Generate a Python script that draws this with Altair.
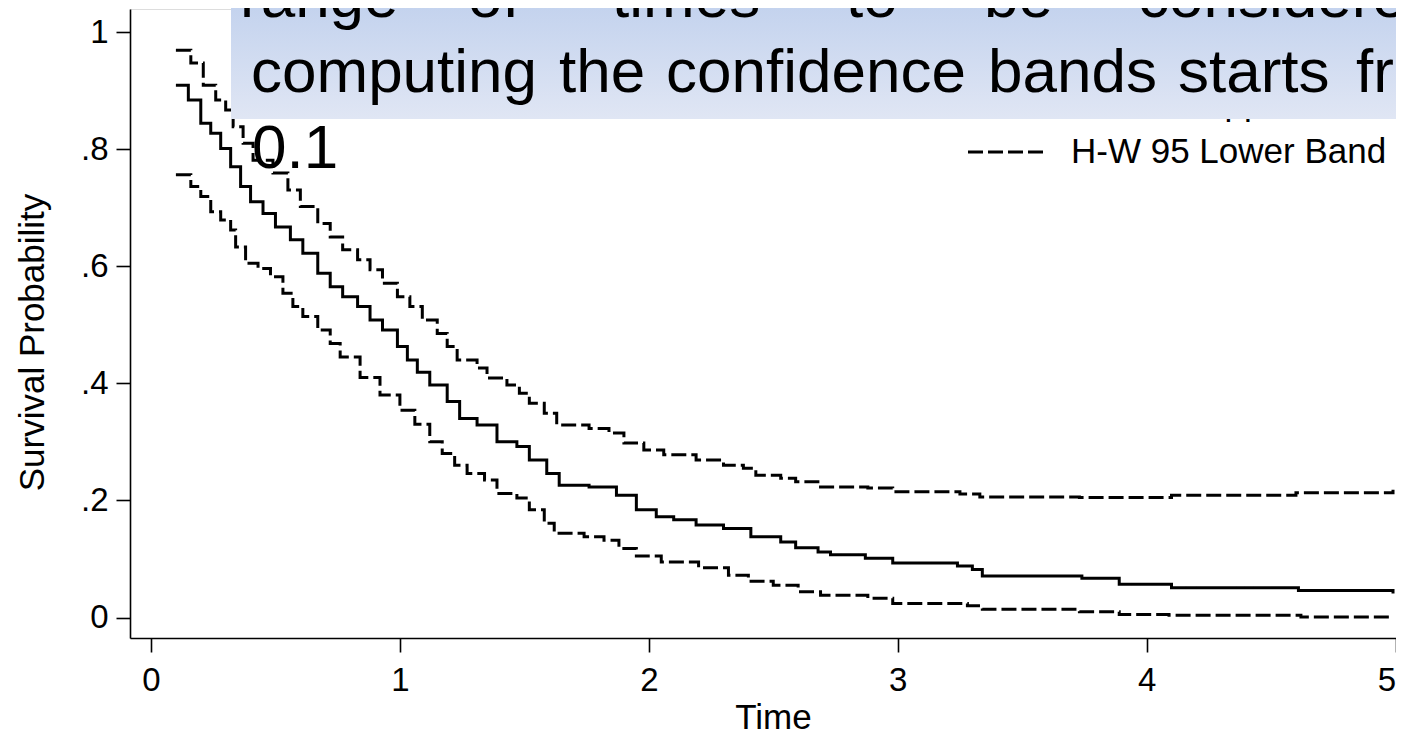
import altair as alt
import pandas as pd

# ---------------- data ----------------
km_time = [0.10, 0.15, 0.20, 0.24, 0.28, 0.32, 0.36, 0.40, 0.45, 0.50, 0.56, 0.61, 0.67,
           0.72, 0.77, 0.83, 0.88, 0.93, 0.99, 1.03, 1.07, 1.12, 1.19, 1.24, 1.31, 1.39,
           1.47, 1.52, 1.59, 1.64, 1.76, 1.87, 1.95, 2.03, 2.10, 2.19, 2.30, 2.41, 2.53,
           2.59, 2.68, 2.73, 2.87, 2.98, 3.24, 3.30, 3.34, 3.74, 3.89, 4.10, 4.61, 4.99]
km_surv = [0.909, 0.884, 0.844, 0.827, 0.801, 0.770, 0.736, 0.710, 0.690, 0.667, 0.645,
           0.622, 0.588, 0.565, 0.548, 0.531, 0.508, 0.491, 0.463, 0.440, 0.419, 0.397,
           0.369, 0.340, 0.329, 0.300, 0.292, 0.269, 0.246, 0.226, 0.223, 0.209, 0.184,
           0.172, 0.167, 0.158, 0.152, 0.138, 0.129, 0.119, 0.112, 0.107, 0.101, 0.093,
           0.088, 0.082, 0.071, 0.067, 0.057, 0.051, 0.046, 0.041]

upper_time = [0.10, 0.16, 0.21, 0.26, 0.30, 0.33, 0.37, 0.41, 0.49, 0.55, 0.60, 0.67, 0.72,
              0.77, 0.83, 0.88, 0.93, 0.99, 1.04, 1.09, 1.15, 1.19, 1.23, 1.31, 1.35, 1.43,
              1.48, 1.52, 1.58, 1.63, 1.76, 1.84, 1.90, 1.98, 2.06, 2.19, 2.30, 2.38, 2.43,
              2.53, 2.59, 2.69, 2.88, 2.98, 3.25, 3.33, 3.73, 4.10, 4.60, 4.99]
upper_surv = [0.969, 0.947, 0.909, 0.884, 0.867, 0.838, 0.810, 0.781, 0.759, 0.730, 0.702,
              0.673, 0.650, 0.628, 0.611, 0.594, 0.571, 0.548, 0.531, 0.508, 0.485, 0.463,
              0.440, 0.426, 0.409, 0.397, 0.383, 0.366, 0.349, 0.329, 0.323, 0.315, 0.298,
              0.286, 0.278, 0.269, 0.260, 0.255, 0.243, 0.238, 0.232, 0.223, 0.221, 0.215,
              0.211, 0.206, 0.205, 0.209, 0.213, 0.218]

lower_time = [0.10, 0.16, 0.20, 0.24, 0.28, 0.32, 0.34, 0.38, 0.43, 0.48, 0.53, 0.57, 0.61,
              0.67, 0.72, 0.76, 0.84, 0.92, 1.00, 1.06, 1.12, 1.17, 1.22, 1.27, 1.34, 1.39,
              1.47, 1.52, 1.58, 1.62, 1.74, 1.82, 1.88, 1.95, 2.05, 2.20, 2.32, 2.40, 2.50,
              2.60, 2.69, 2.88, 2.98, 3.28, 3.34, 3.73, 3.89, 4.09, 4.62, 4.99]
lower_surv = [0.756, 0.736, 0.719, 0.693, 0.679, 0.662, 0.633, 0.605, 0.596, 0.582, 0.554,
              0.531, 0.514, 0.491, 0.468, 0.445, 0.410, 0.380, 0.354, 0.330, 0.300, 0.280,
              0.260, 0.246, 0.235, 0.212, 0.204, 0.184, 0.161, 0.144, 0.138, 0.132, 0.118,
              0.105, 0.095, 0.085, 0.072, 0.062, 0.055, 0.044, 0.038, 0.033, 0.024, 0.020,
              0.014, 0.010, 0.005, 0.004, 0.001, 0.001]

series_names = ["Survivor Function", "H-W 95 Upper Band", "H-W 95 Lower Band"]
x_ticks = [0, 1, 2, 3, 4, 5]
y_ticks = [0, 0.2, 0.4, 0.6, 0.8, 1]
y_tick_labels = ["0", ".2", ".4", ".6", ".8", "1"]
x_title = "Time"
y_title = "Survival Probability"
note_line1 = ["range", "of", "times", "to", "be", "considered"]
note_line2 = ["computing", "the", "confidence", "bands", "starts", "from"]
note_line3 = ["0.1"]

# ---------------- table ----------------
frames = []
for name, t, s in zip(series_names,
                      [km_time, upper_time, lower_time],
                      [km_surv, upper_surv, lower_surv]):
    frames.append(pd.DataFrame({"time": t, "surv": s, "series": name}))
df = pd.concat(frames, ignore_index=True)

# ---------------- layout ----------------
FONT = "Liberation Sans"
W, H = 1266, 629          # plot area (page x 130..1396, y 9..638)
PAD_L, PAD_T = 122, 1
X_DOM = [-0.0844, 5.002]
Y_DOM = [-0.035, 1.0393]
DASH = [15, 5]

label_expr = " : ".join(
    f"datum.value == {v} ? '{l}'" for v, l in zip(y_ticks, y_tick_labels)
) + " : ''"

axis_common = dict(
    domainColor="black", domainWidth=1.6, tickColor="black", tickWidth=1.6,
    tickSize=14, grid=False, labelFont=FONT, labelFontSize=33,
    labelColor="black", titleFont=FONT, titleFontSize=35,
    titleFontWeight="normal", titleColor="black",
)

lines = alt.Chart(df).mark_line(
    interpolate="step-after", strokeWidth=3, color="black", strokeCap="butt"
).encode(
    x=alt.X("time:Q",
            scale=alt.Scale(domain=X_DOM, nice=False, zero=False),
            axis=alt.Axis(values=x_ticks, title=x_title, format="d",
                          labelPadding=12, titleX=643, titleY=90,
                          titleBaseline="alphabetic", titleAlign="center",
                          **axis_common)),
    y=alt.Y("surv:Q",
            scale=alt.Scale(domain=Y_DOM, nice=False, zero=False),
            axis=alt.Axis(values=y_ticks, title=y_title, labelExpr=label_expr,
                          labelPadding=8, titleX=-87, titleY=333,
                          titleAngle=270, titleBaseline="alphabetic",
                          titleAlign="center", **axis_common)),
    strokeDash=alt.StrokeDash("series:N",
                              scale=alt.Scale(domain=series_names,
                                              range=[[1, 0], DASH, DASH]),
                              legend=None),
    detail="series:N",
)

one = alt.Data(values=[{}])

# legend (Stata style, upper right)
legend_layers = []
for name, dash, base_y in zip(series_names, [[1, 0], DASH, DASH], [58, 106, 154]):
    legend_layers.append(
        alt.Chart(one).mark_rule(color="black", strokeWidth=3, strokeDash=dash,
                                 strokeCap="butt").encode(
            x=alt.value(968 - 130), x2=alt.value(1043 - 130), y=alt.value(base_y - 11))
    )
    legend_layers.append(
        alt.Chart(one).mark_text(text=name, font=FONT, fontSize=35, color="black",
                                 align="left", baseline="alphabetic").encode(
            x=alt.value(1071 - 130), y=alt.value(base_y))
    )

# note box with gradient
box = alt.Chart(one).mark_rect(
    fill=alt.LinearGradient(gradient="linear",
                            stops=[alt.GradientStop(color="#c4d3ee", offset=0),
                                   alt.GradientStop(color="#e0e6f4", offset=1)],
                            x1=0, x2=0, y1=0, y2=1),
).encode(x=alt.value(231 - 130), x2=alt.value(W), y=alt.value(-1), y2=alt.value(110))

note_layers = []
line1_x = [240, 468, 612, 846, 984, 1138]
line2_x = [251, 559, 666, 988, 1178, 1356]
line3_x = [252]
for words, xs, base_y in [(note_line1, line1_x, 8), (note_line2, line2_x, 83),
                          (note_line3, line3_x, 159)]:
    for w, xp in zip(words, xs):
        note_layers.append(
            alt.Chart(one).mark_text(text=w, font=FONT, fontSize=62, color="black",
                                     align="left", baseline="alphabetic").encode(
                x=alt.value(xp - 130), y=alt.value(base_y))
        )

chart = alt.layer(lines, *legend_layers, box, *note_layers).properties(
    width=W, height=H,
    autosize=alt.AutoSizeParams(type="none"),
    padding={"left": PAD_L, "top": PAD_T, "right": 0, "bottom": 98},
).configure_view(stroke=None).configure(background="white")

chart.save("out.html", embed_options={"renderer": "svg", "actions": False})
